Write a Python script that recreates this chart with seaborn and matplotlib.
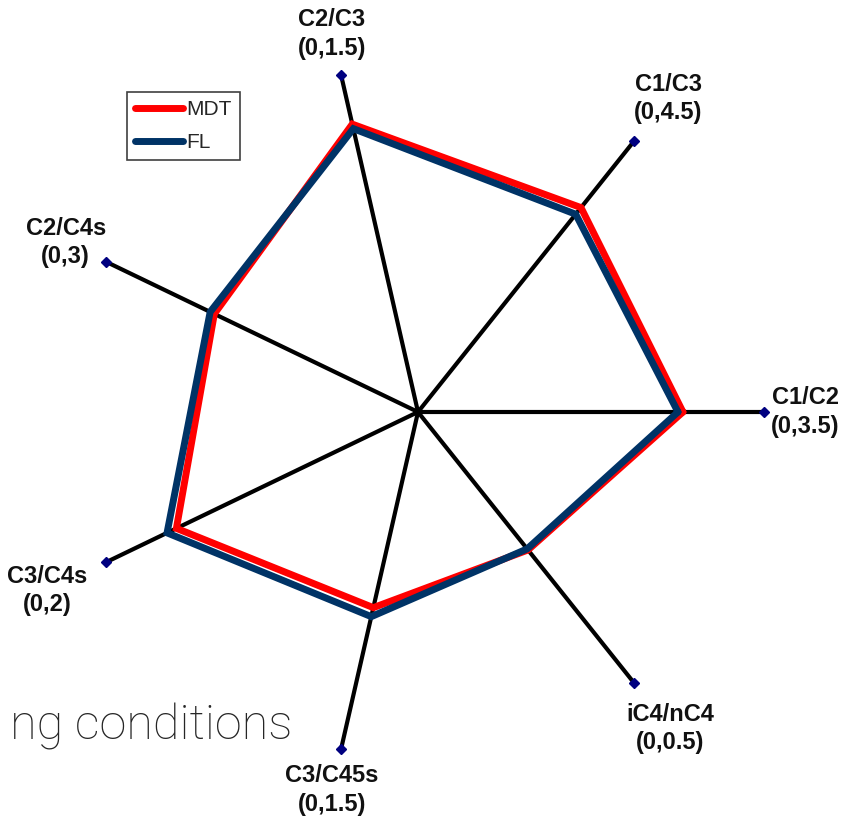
import numpy as np
import pandas as pd
import matplotlib
matplotlib.use('Agg')
import matplotlib.pyplot as plt
import seaborn as sns

# axes of the radar, counter-clockwise starting from the right
categories = ['C1/C2', 'C1/C3', 'C2/C3', 'C2/C4s', 'C3/C4s', 'C3/C45s', 'iC4/nC4']
axis_ranges = ['(0,3.5)', '(0,4.5)', '(0,1.5)', '(0,3)', '(0,2)', '(0,1.5)', '(0,0.5)']
axis_max = [3.5, 4.5, 1.5, 3.0, 2.0, 1.5, 0.5]

# series values
mdt_values = [2.68, 3.40, 1.28, 1.96, 1.55, 0.87, 0.255]
fl_values = [2.63, 3.29, 1.26, 2.00, 1.61, 0.91, 0.253]

sns.set_style('white')
plt.rcParams['font.family'] = ['Liberation Sans', 'DejaVu Sans']

W, H, dpi = 844, 823, 100
fig = plt.figure(figsize=(W / dpi, H / dpi), dpi=dpi)
ax = fig.add_axes([0, 0, 1, 1])

# pixel layout: centre of the radar and length of one spoke
cx, cy, R = 418, 412, 346
ax.set_xlim(-cx / R, (W - cx) / R)
ax.set_ylim(-(H - cy) / R, cy / R)
ax.axis('off')

n = len(categories)
angles = np.arange(n) * 2 * np.pi / n

# spokes with a small diamond at the end
for a in angles:
    ax.plot([0, np.cos(a)], [0, np.sin(a)], color='black', lw=3, zorder=2,
            marker='D', markevery=[1], markersize=5.5,
            markerfacecolor='#000080', markeredgecolor='#000080')

# build long-form table for the polygons
rows = []
for name, vals in [('MDT', mdt_values), ('FL', fl_values)]:
    frac = np.array(vals) / np.array(axis_max)
    for i in list(range(n)) + [0]:
        rows.append({'series': name, 'x': frac[i] * np.cos(angles[i]),
                     'y': frac[i] * np.sin(angles[i])})
df = pd.DataFrame(rows)

colors = {'MDT': '#ff0000', 'FL': '#003366'}
for name in ['MDT', 'FL']:
    sns.lineplot(data=df[df.series == name], x='x', y='y', sort=False,
                 estimator=None, color=colors[name], lw=5, label=name, ax=ax,
                 zorder=3, solid_joinstyle='miter', solid_capstyle='round')

# axis labels
label_r = [1.12, 1.16, 1.12, 1.13, 1.19, 1.12, 1.17]
for a, r, cat, rng in zip(angles, label_r, categories, axis_ranges):
    ax.text(r * np.cos(a), r * np.sin(a), f'{cat}\n{rng}', ha='center', va='center',
            fontsize=17, fontweight='bold', linespacing=1.3, color='#111111')

leg = ax.legend(loc='upper left', bbox_to_anchor=(127 / W, 1 - 92 / H),
                bbox_transform=fig.transFigure, fontsize=15, frameon=True,
                fancybox=False, framealpha=1, edgecolor='#404040',
                handlelength=2.3, handletextpad=0.15, borderpad=0.4,
                labelspacing=0.65, borderaxespad=0)
leg.get_frame().set_linewidth(1.2)

# leftover slide text in the background
fig.text(292 / W, 1 - 740 / H, 'ng conditions', ha='right', va='baseline',
         fontsize=35, fontweight='light',
         family=['Liberation Sans Narrow', 'Roboto', 'DejaVu Sans'])

plt.savefig('out.png', dpi=dpi)
